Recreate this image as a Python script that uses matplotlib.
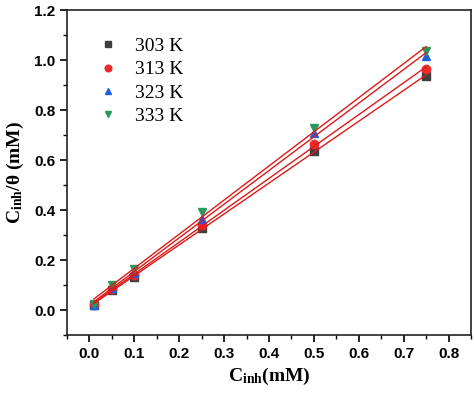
import numpy as np
import matplotlib
matplotlib.use('Agg')
import matplotlib.pyplot as plt
from matplotlib.ticker import MultipleLocator

plt.rcParams['mathtext.fontset'] = 'custom'
plt.rcParams['mathtext.rm'] = 'Liberation Serif:bold'
plt.rcParams['mathtext.bf'] = 'Liberation Serif:bold'
plt.rcParams['mathtext.it'] = 'Liberation Serif:bold'

conc = [0.01, 0.05, 0.1, 0.25, 0.5, 0.75]
temps = ['303 K', '313 K', '323 K', '333 K']
y303 = [0.020, 0.080, 0.133, 0.327, 0.636, 0.936]
y313 = [0.021, 0.085, 0.140, 0.340, 0.665, 0.964]
y323 = [0.022, 0.090, 0.150, 0.365, 0.709, 1.016]
y333 = [0.026, 0.100, 0.165, 0.392, 0.728, 1.037]
series = [y303, y313, y323, y333]

markers = ['s', 'o', '^', 'v']
colors = ['#3f3f3f', '#ee2a2a', '#1f5fd8', '#2a9a5c']

fig = plt.figure(figsize=(4.74, 3.94), dpi=100)
ax = fig.add_axes([67/474, 1 - 335/394, (471-67)/474, (335-10)/394])

x = np.array(conc)
for lab, ys, m, c in zip(temps, series, markers, colors):
    ax.plot(x, ys, m, color=c, ms=6, mec=c, label=lab, zorder=3)
for ys in series:
    k, b = np.polyfit(x, ys, 1)
    ax.plot([x.min(), x.max()], [k * x.min() + b, k * x.max() + b],
            color='#e01818', lw=1.0, zorder=4)

ax.set_xlim(-0.05, 0.85)
ax.set_ylim(-0.1, 1.2)
ax.xaxis.set_major_locator(MultipleLocator(0.1))
ax.xaxis.set_minor_locator(MultipleLocator(0.05))
ax.yaxis.set_major_locator(MultipleLocator(0.2))
ax.yaxis.set_minor_locator(MultipleLocator(0.1))
ax.tick_params(which='major', direction='out', length=5, width=1.2,
               labelsize=11)
ax.tick_params(which='minor', direction='out', length=3, width=1.0)
for t in ax.get_xticklabels() + ax.get_yticklabels():
    t.set_fontweight('bold')
    t.set_family('Liberation Sans')
for s in ax.spines.values():
    s.set_linewidth(1.2)
    s.set_color('#222222')

ax.set_xlabel(r'C$_{\mathbf{inh}}$(mM)', family='Liberation Serif',
              fontsize=14, fontweight='bold', labelpad=4)
ax.set_ylabel(r'C$_{\mathbf{inh}}$/θ (mM)', family='Liberation Serif',
              fontsize=14, fontweight='bold', labelpad=6)

ax.legend(loc='upper left', bbox_to_anchor=(0.01, 0.97), frameon=False,
          prop={'family': 'Liberation Serif', 'size': 14},
          handletextpad=0.4, labelspacing=0.3, markerscale=0.8)

fig.savefig('out.png', dpi=100)
